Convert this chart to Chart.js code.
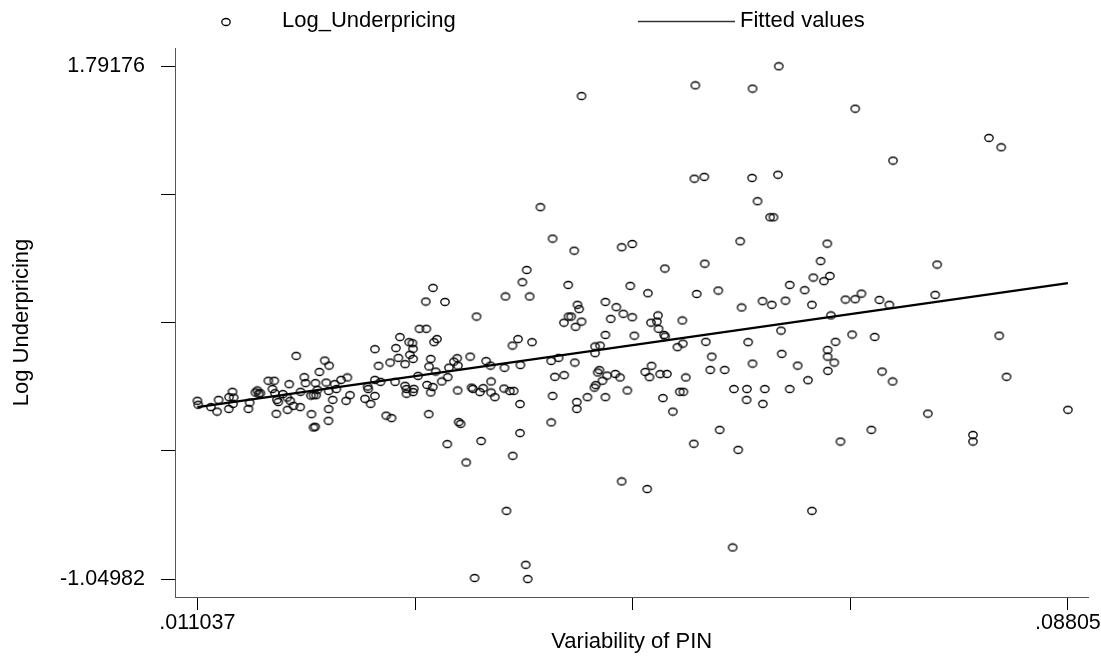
<!DOCTYPE html>
<html lang="en">
<head>
    <meta charset="UTF-8">
    <title>Log Underpricing vs Variability of PIN</title>
    <script src="https://cdn.jsdelivr.net/npm/chart.js"></script>
    <style>
        body {
            margin: 0;
            background-color: #ffffff;
        }
        #scatterChart {
            display: block;
        }
    </style>
</head>
<body>
    <canvas id="scatterChart" width="1101" height="658"></canvas>

<script>
// x = variability of PIN, y = log underpricing
const pinValues = [
    0.011037, 0.01111, 0.01223, 0.01278, 0.01291, 0.01381, 0.01384, 0.01414, 0.01425, 0.01419,
    0.01555, 0.01566, 0.01617, 0.01634, 0.01646, 0.01661, 0.01731, 0.01784, 0.01767, 0.01802,
    0.01807, 0.01789, 0.01819, 0.01860, 0.01899, 0.01901, 0.01916, 0.01925, 0.01954, 0.01978,
    0.02013, 0.02016, 0.02049, 0.02060, 0.02113, 0.02107, 0.02131, 0.02148, 0.02154, 0.02131,
    0.02146, 0.02166, 0.02183, 0.02230, 0.02243, 0.02269, 0.02265, 0.02263, 0.02265, 0.02301,
    0.02318, 0.02333, 0.02375, 0.02430, 0.02419, 0.02454, 0.02586, 0.02609, 0.02615, 0.02636,
    0.02674, 0.02674, 0.02674, 0.02706, 0.02724, 0.02774, 0.02821, 0.02809, 0.02853, 0.02860,
    0.02882, 0.02895, 0.02941, 0.02941, 0.02953, 0.02953, 0.02977, 0.03006, 0.03012, 0.02983,
    0.03012, 0.03018, 0.03012,
    // middle
    0.04138, 0.04246, 0.04437, 0.04857, 0.04951, 0.04017, 0.03979, 0.04384, 0.04933, 0.03188,
    0.03829, 0.04043, 0.03124, 0.03294, 0.04713, 0.04466, 0.04481, 0.04810, 0.04872, 0.04951,
    0.04760, 0.03573, 0.04387, 0.04411, 0.04346, 0.04502, 0.04449, 0.03068, 0.03129, 0.04713,
    0.04969, 0.03940, 0.03891, 0.04064, 0.03223, 0.03197, 0.04622, 0.04666, 0.04622, 0.03517,
    0.03402, 0.03373, 0.03168, 0.03658, 0.03697, 0.03409, 0.04234, 0.04299, 0.04442, 0.03961,
    0.03820, 0.03329, 0.03153, 0.03212, 0.03056, 0.03318, 0.03265, 0.03135, 0.03186, 0.03168,
    0.03406, 0.03529, 0.03541, 0.03603, 0.03632, 0.03702, 0.03702, 0.03735, 0.03817, 0.03867,
    0.03902, 0.03958, 0.04266, 0.04349, 0.04246, 0.04460, 0.04460, 0.04554, 0.04713, 0.04645,
    0.04660, 0.04728, 0.04687, 0.04616, 0.04628, 0.04801, 0.04843, 0.04907, 0.03150, 0.03415,
    0.03432, 0.04234, 0.03958, 0.03614, 0.03314,
    0.03482, 0.03893, 0.04857, 0.03838, 0.04008, 0.03556, 0.04026, 0.04502,
    // right half, upper
    0.06247, 0.05509, 0.06015, 0.06923, 0.05500, 0.05588, 0.06011, 0.06240, 0.06059, 0.06170,
    0.06200, 0.05906, 0.06676, 0.05239, 0.05592, 0.06617, 0.06553, 0.06699, 0.06646, 0.05089,
    0.05521, 0.05712, 0.06344, 0.06476, 0.05918, 0.06103, 0.06185, 0.06306, 0.06540, 0.06837,
    0.06923, 0.05178, 0.06708,
    // right half, lower
    0.05116, 0.05169, 0.05183, 0.05233, 0.05242, 0.05394, 0.06267, 0.06896, 0.05350, 0.05398,
    0.05601, 0.05976, 0.06749, 0.06679, 0.06679, 0.06738, 0.06681, 0.06273, 0.06015, 0.06414,
    0.06505, 0.05654, 0.05641, 0.05768, 0.05121, 0.05066, 0.05103, 0.05198, 0.05257, 0.05424,
    0.05371, 0.05403, 0.05222, 0.05310, 0.05850, 0.05965, 0.06123, 0.06344, 0.05962, 0.06106,
    0.05724, 0.05495, 0.05888, 0.06793, 0.05083, 0.06540, 0.05839,
    // far right
    0.08106, 0.08215, 0.07258, 0.07648, 0.07631, 0.06978, 0.07137, 0.07225, 0.07095, 0.08197,
    0.07161, 0.07254, 0.08262, 0.08805, 0.07566, 0.07066, 0.07965, 0.07965
];

const logUnderpricing = [
    -0.062, -0.084, -0.097, -0.122, -0.057, -0.107, -0.042, -0.012, -0.044, -0.079,
    -0.107, -0.072, -0.016, -0.005, -0.023, -0.020, 0.049, 0.049, 0.003, -0.134,
    -0.057, -0.020, -0.069, -0.025, -0.044, -0.112, 0.030, -0.062, -0.090, 0.187,
    -0.097, -0.012, 0.069, 0.036, -0.136, -0.033, -0.031, 0.036, -0.031, -0.210,
    -0.206, -0.001, 0.098, 0.161, 0.039, 0.133, -0.108, -0.173, -0.008, -0.057,
    0.030, 0.003, 0.054, 0.067, -0.062, -0.031, -0.051, 0.017, 0.003, -0.079,
    0.054, -0.035, 0.224, 0.132, 0.043, -0.144, -0.158, 0.150, 0.043, 0.230,
    0.176, 0.291, 0.141, 0.021, 0.003, -0.023, 0.263, 0.257, 0.226, 0.193,
    0.170, 0.004, -0.014,
    // middle
    1.011, 0.837, 0.770, 0.789, 0.807, 0.663, 0.595, 0.580, 0.575, 0.564,
    0.516, 0.516, 0.488, 0.486, 0.486, 0.470, 0.446, 0.457, 0.420, 0.401,
    0.392, 0.405, 0.405, 0.405, 0.371, 0.377, 0.348, 0.337, 0.337, 0.303,
    0.299, 0.280, 0.244, 0.263, 0.280, 0.263, 0.239, 0.244, 0.202, 0.183,
    0.174, 0.155, 0.170, 0.158, 0.133, 0.133, 0.159, 0.176, 0.150, 0.136,
    0.121, 0.122, 0.128, 0.100, 0.076, 0.069, 0.045, 0.026, 0.014, -0.016,
    -0.005, 0.011, 0.004, -0.014, 0.008, 0.045, -0.016, -0.042, 0.006, -0.008,
    -0.007, -0.080, 0.071, 0.080, -0.035, -0.069, -0.107, -0.042, -0.042, 0.095,
    0.108, 0.078, 0.049, 0.011, 0.025, 0.087, 0.067, -0.005, -0.136, -0.180,
    -0.190, -0.182, -0.241, -0.285, -0.302,
    -0.404, -0.367, -0.509, -0.672, -0.971, -1.044, -1.04982, 1.627,
    // right half, upper
    1.79176, 1.686, 1.668, 1.557, 1.169, 1.179, 1.173, 1.191, 1.044, 0.955,
    0.955, 0.822, 0.809, 0.671, 0.698, 0.712, 0.621, 0.630, 0.601, 0.534,
    0.530, 0.549, 0.580, 0.551, 0.455, 0.490, 0.470, 0.493, 0.470, 0.499,
    0.501, 0.411, 0.411,
    // right half, lower
    0.371, 0.377, 0.337, 0.303, 0.294, 0.383, 0.327, 0.305, 0.235, 0.255,
    0.265, 0.263, 0.265, 0.220, 0.183, 0.150, 0.104, 0.198, 0.144, 0.133,
    0.052, 0.183, 0.109, 0.109, 0.132, 0.098, 0.069, 0.086, 0.087, 0.067,
    -0.012, -0.012, -0.047, -0.122, 0.003, 0.003, 0.003, 0.003, -0.057, -0.079,
    -0.223, -0.300, -0.334, -0.288, -0.551, -0.672, -0.875,
    // far right
    1.395, 1.343, 1.269, 0.693, 0.525, 0.532, 0.497, 0.470, 0.292, 0.299,
    0.100, 0.045, 0.071, -0.112, -0.133, -0.223, -0.251, -0.288
];

// fitted values (end points of the regression line)
const fittedX = [0.011037, 0.08805];
const fittedY = [-0.097, 0.590];

const seriesNames = ['Log_Underpricing', 'Fitted values'];
const xTitle = 'Variability of PIN';
const yTitle = 'Log Underpricing';

const xTicks = [0.011037, 0.03029025, 0.0495435, 0.06879675, 0.08805];
const xTickLabels = ['.011037', '', '', '', '.08805'];
const yTicks = [-1.04982, -0.339425, 0.37097, 1.081365, 1.79176];
const yTickLabels = ['-1.04982', '', '', '', '1.79176'];

const FONT = '"Liberation Sans", Arial, sans-serif';

// hollow (slightly squashed) circle like the Stata marker
function makeMarker() {
    const c = document.createElement('canvas');
    c.width = 12;
    c.height = 10;
    const g = c.getContext('2d');
    g.strokeStyle = '#000';
    g.lineWidth = 1.3;
    g.beginPath();
    g.ellipse(6, 5, 4.2, 3.5, 0, 0, Math.PI * 2);
    g.stroke();
    return c;
}
const marker = makeMarker();

// legend on top, drawn by hand to keep the Stata spacing
const topLegend = {
    id: 'topLegend',
    afterDraw(chart) {
        const ctx = chart.ctx;
        ctx.save();
        ctx.drawImage(marker, 226 - marker.width / 2, 22 - marker.height / 2);
        ctx.font = '22px ' + FONT;
        ctx.fillStyle = '#000';
        ctx.textBaseline = 'middle';
        ctx.fillText(seriesNames[0], 282, 21);
        ctx.strokeStyle = '#333';
        ctx.lineWidth = 1.5;
        ctx.beginPath();
        ctx.moveTo(638, 21.5);
        ctx.lineTo(735, 21.5);
        ctx.stroke();
        ctx.fillText(seriesNames[1], 740, 21);
        ctx.restore();
    }
};

const scatterPoints = pinValues.map((x, i) => ({ x: x, y: logUnderpricing[i] }));
const fittedPoints = fittedX.map((x, i) => ({ x: x, y: fittedY[i] }));

new Chart(document.getElementById('scatterChart'), {
    type: 'scatter',
    data: {
        datasets: [
            {
                label: seriesNames[0],
                data: scatterPoints,
                pointStyle: marker,
                pointRadius: 4,
                showLine: false
            },
            {
                type: 'line',
                label: seriesNames[1],
                data: fittedPoints,
                borderColor: '#000',
                borderWidth: 2.2,
                pointRadius: 0,
                fill: false
            }
        ]
    },
    options: {
        responsive: false,
        animation: false,
        layout: {
            padding: { top: 48, right: 9, left: 0, bottom: 0 }
        },
        plugins: {
            legend: { display: false },
            tooltip: { enabled: false }
        },
        scales: {
            x: {
                type: 'linear',
                min: 0.009054,
                max: 0.089874,
                afterBuildTicks: function(scale) {
                    scale.ticks = xTicks.map(v => ({ value: v }));
                },
                afterFit: function(scale) {
                    scale.height = 61;
                },
                ticks: {
                    autoSkip: false,
                    maxRotation: 0,
                    padding: 0,
                    color: '#000',
                    font: { family: FONT, size: 21.5 },
                    callback: function(value, index) {
                        return xTickLabels[index];
                    }
                },
                grid: {
                    drawOnChartArea: false,
                    tickLength: 13,
                    color: '#000'
                },
                border: { color: '#555', width: 1 },
                title: {
                    display: true,
                    text: xTitle,
                    color: '#000',
                    font: { family: FONT, size: 22 },
                    padding: { top: 0, bottom: 3 }
                }
            },
            y: {
                type: 'linear',
                min: -1.14952,
                max: 1.89313,
                afterBuildTicks: function(scale) {
                    scale.ticks = yTicks.map(v => ({ value: v }));
                },
                afterFit: function(scale) {
                    scale.width = 175;
                },
                ticks: {
                    autoSkip: false,
                    padding: 16,
                    color: '#000',
                    font: { family: FONT, size: 21.5 },
                    callback: function(value, index) {
                        return yTickLabels[index];
                    }
                },
                grid: {
                    drawOnChartArea: false,
                    tickLength: 14,
                    color: '#000'
                },
                border: { color: '#555', width: 1 },
                title: {
                    display: true,
                    text: yTitle,
                    color: '#000',
                    font: { family: FONT, size: 22 },
                    padding: { top: 9, bottom: 0 }
                }
            }
        }
    },
    plugins: [topLegend]
});
</script>
</body>
</html>
